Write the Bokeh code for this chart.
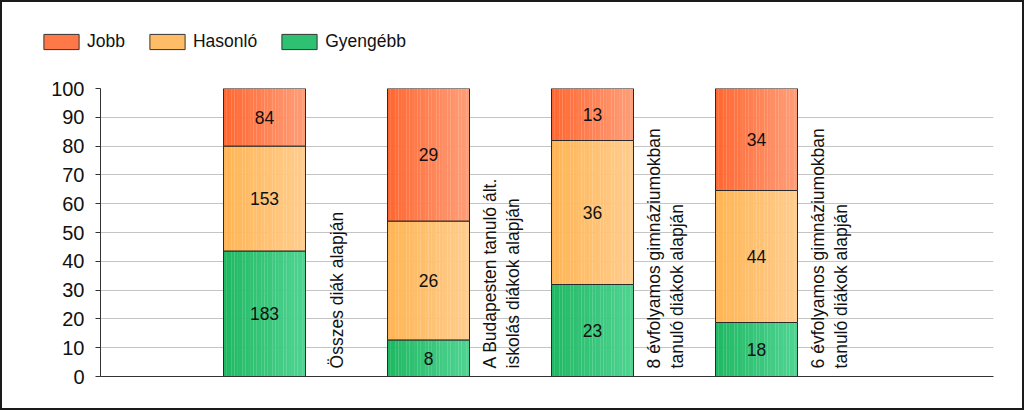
import math
from bokeh.plotting import figure
from bokeh.models import Range1d, Legend, LegendItem, FixedTicker
from bokeh.layouts import column
from bokeh.core.properties import value
from bokeh.embed import file_html
from bokeh.resources import INLINE

# ---- data ----
categories = [
    "Összes diák alapján",
    "A Budapesten tanuló ált.\niskolás diákok alapján",
    "8 évfolyamos gimnáziumokban\ntanuló diákok alapján",
    "6 évfolyamos gimnáziumokban\ntanuló diákok alapján",
]
series_names = ["Gyengébb", "Hasonló", "Jobb"]
legend_order = ["Jobb", "Hasonló", "Gyengébb"]
gyengebb = [183, 8, 23, 18]
hasonlo = [153, 26, 36, 44]
jobb = [84, 29, 13, 34]
y_ticks = [0, 10, 20, 30, 40, 50, 60, 70, 80, 90, 100]

# gradient colors (left, right) per series
grad = {
    "Gyengébb": ((0x1F, 0xB8, 0x62), (0x4F, 0xD4, 0x92)),
    "Hasonló": ((0xFF, 0xB4, 0x52), (0xFF, 0xCD, 0x8E)),
    "Jobb": ((0xFF, 0x66, 0x30), (0xFF, 0x9E, 0x78)),
}

FONT = "Liberation Sans"
W = 1020
LEG_H = 70
MAIN_H = 406 - LEG_H

# ---- legend strip figure ----
lf = figure(width=W, height=LEG_H, output_backend="svg", toolbar_location=None,
            x_range=Range1d(0, W), y_range=Range1d(0, LEG_H),
            min_border=0, x_axis_location=None, y_axis_location=None,
            outline_line_color=None, background_fill_color="white", border_fill_color="white")
lf.xgrid.visible = False
lf.ygrid.visible = False
lf.frame_align = False

# ---- main figure ----
p = figure(width=W, height=MAIN_H, output_backend="svg", toolbar_location=None,
           x_range=Range1d(0, 893 / 164), y_range=Range1d(0, 100),
           min_border_left=98, min_border_right=29, min_border_top=16,
           min_border_bottom=32, background_fill_color="white",
           border_fill_color="white", outline_line_color=None)
p.frame_align = False

xs = [i + 1 for i in range(len(categories))]
bar_w = 0.5
values = {"Gyengébb": gyengebb, "Hasonló": hasonlo, "Jobb": jobb}
totals = [a + b + c for a, b, c in zip(gyengebb, hasonlo, jobb)]

bottoms = [0.0] * len(xs)
NSTRIP = 30
legend_renderers = {}
for name in series_names:
    vals = values[name]
    pct = [v / t * 100 for v, t in zip(vals, totals)]
    tops = [b + q for b, q in zip(bottoms, pct)]
    (r0, g0, b0), (r1, g1, b1) = grad[name]
    # gradient strips
    sx, sb, st, sc = [], [], [], []
    for k in range(NSTRIP):
        f = (k + 0.5) / NSTRIP
        col = "#%02x%02x%02x" % (round(r0 + (r1 - r0) * f), round(g0 + (g1 - g0) * f), round(b0 + (b1 - b0) * f))
        for x, bt, tp in zip(xs, bottoms, tops):
            sx.append(x - bar_w / 2 + (k + 0.5) * bar_w / NSTRIP)
            sb.append(bt)
            st.append(tp)
            sc.append(col)
    p.vbar(x=sx, bottom=sb, top=st, width=bar_w / NSTRIP * 1.05, fill_color=sc, line_color=None)
    # outline
    p.vbar(x=xs, bottom=bottoms, top=tops, width=bar_w, fill_alpha=0, line_color="#2a2a2a", line_width=1)
    # labels
    mids = [(b + t) / 2 for b, t in zip(bottoms, tops)]
    p.text(x=xs, y=mids, text=[str(v) for v in vals], text_align="center", text_baseline="middle",
           text_font=value(FONT), text_font_size="17.5px", text_color="#111111")
    # legend proxy renderer (on legend strip, drawn outside its visible range)
    mid_col = "#%02x%02x%02x" % ((r0 * 2 + r1) // 3, (g0 * 2 + g1) // 3, (b0 * 2 + b1) // 3)
    legend_renderers[name] = lf.vbar(x=[-500], bottom=[-500], top=[-400], width=10,
                                     fill_color=mid_col, line_color="#333333")
    bottoms = tops

# category labels (rotated)
p.text(x=[x + 0.445 for x in xs], y=[2.8] * len(xs), text=categories, angle=math.pi / 2,
       text_align="left", text_baseline="middle", text_font=value(FONT),
       text_font_size="17.5px", text_color="#111111", text_line_height=1.15)

legend = Legend(items=[LegendItem(label=n, renderers=[legend_renderers[n]]) for n in legend_order],
                orientation="horizontal", location=(37, 20), padding=0, margin=0,
                spacing=20, glyph_width=44, glyph_height=19, label_height=19,
                label_standoff=4, label_text_font=FONT, label_text_font_size="17.5px",
                label_text_color="#111111", border_line_color=None, background_fill_alpha=0)
lf.add_layout(legend, "center")

p.yaxis.ticker = FixedTicker(ticks=y_ticks)
p.yaxis.major_label_text_font = FONT
p.yaxis.major_label_text_font_size = "20px"
p.yaxis.major_label_text_color = "#111111"
p.yaxis.axis_line_color = "#333333"
p.yaxis.major_tick_line_color = "#333333"
p.yaxis.major_tick_in = 0
p.yaxis.major_tick_out = 5
p.yaxis.minor_tick_line_color = None
p.yaxis.major_label_standoff = 11

p.xaxis.ticker = FixedTicker(ticks=[])
p.xaxis.major_label_text_font_size = "0px"
p.xaxis.major_tick_line_color = None
p.xaxis.minor_tick_line_color = None
p.xaxis.axis_line_color = "#333333"

p.xgrid.grid_line_color = None
p.ygrid.ticker = FixedTicker(ticks=y_ticks)
p.ygrid.grid_line_color = "#c4c4c4"
p.ygrid.grid_line_width = 1

layout = column(lf, p, spacing=0, styles={"border": "2px solid #1a1a1a", "background": "white"})
open("out.html", "w").write(file_html(layout, INLINE))
